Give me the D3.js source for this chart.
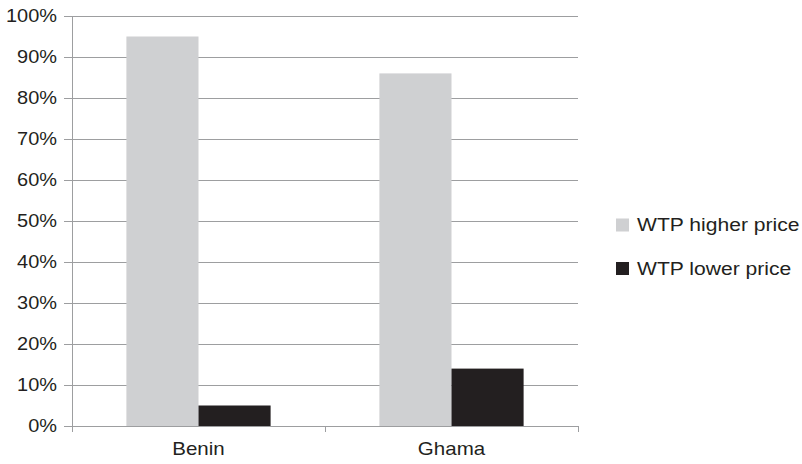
<!DOCTYPE html>
<html>
<head>
<meta charset="utf-8">
<script src="https://cdn.jsdelivr.net/npm/d3@7"></script>
<style>
    body { margin: 0; background: #fff; }
    svg text { font-family: "Liberation Sans", Arial, sans-serif; fill: #231f20; }
</style>
</head>
<body>
<div id="chart"></div>
<script>
'use strict';

// Chart data
const categories = ['Benin', 'Ghama'];
const seriesNames = ['WTP higher price', 'WTP lower price'];
const higherPrice = [0.95, 0.86];
const lowerPrice = [0.05, 0.14];
const yTicks = [0, 0.1, 0.2, 0.3, 0.4, 0.5, 0.6, 0.7, 0.8, 0.9, 1.0];

const settings = {
    width: 802,
    height: 464,
    elId: '#chart'
};

const margin = { top: 16, left: 72, right: 224, bottom: 38 };
const colors = ['#cfd0d2', '#231f20'];
const gridColor = '#9d9ea0';
// the original text is a bit wider than Liberation Sans
const stretch = 1.14;

const innerW = settings.width - margin.left - margin.right;
const innerH = settings.height - margin.top - margin.bottom;

// widen text horizontally, keeping its anchor point
function widen(sel) {
    sel.each(function () {
        const t = d3.select(this);
        const x0 = +t.attr('x') || 0;
        t.attr('x', x0 / stretch)
            .attr('transform', `scale(${stretch},1)`);
    });
}

const svg = d3.select(settings.elId)
    .append('svg')
    .attr('width', settings.width)
    .attr('height', settings.height);

const g = svg.append('g')
    .attr('transform', `translate(${margin.left},${margin.top})`);

const x = d3.scaleBand()
    .domain(categories)
    .range([0, innerW])
    .paddingInner(0)
    .paddingOuter(0);

const xSub = d3.scaleBand()
    .domain(seriesNames)
    .range([x.bandwidth() * 0.215, x.bandwidth() * 0.785]);

const y = d3.scaleLinear()
    .domain([0, 1])
    .range([innerH, 0]);

// Gridlines
g.append('g')
    .selectAll('line')
    .data(yTicks.slice(1))
    .enter()
    .append('line')
    .attr('x1', 0)
    .attr('x2', innerW)
    .attr('y1', d => Math.round(y(d)) + 0.5)
    .attr('y2', d => Math.round(y(d)) + 0.5)
    .attr('stroke', gridColor)
    .attr('stroke-width', 1);

// Bars
const rows = categories.map((c, i) => ({ cat: c, values: [higherPrice[i], lowerPrice[i]] }));

const groups = g.selectAll('.group')
    .data(rows)
    .enter()
    .append('g')
    .attr('class', 'group')
    .attr('transform', d => `translate(${x(d.cat)},0)`);

groups.selectAll('rect')
    .data(d => d.values.map((v, i) => ({ name: seriesNames[i], value: v, i })))
    .enter()
    .append('rect')
    .attr('x', d => xSub(d.name))
    .attr('width', xSub.bandwidth())
    .attr('y', d => y(d.value))
    .attr('height', d => innerH - y(d.value))
    .attr('fill', d => colors[d.i]);

// Y axis
const yAxis = d3.axisLeft(y)
    .tickValues(yTicks)
    .tickFormat(d3.format('.0%'))
    .tickSize(8)
    .tickPadding(7);

const yG = g.append('g').call(yAxis);
yG.select('.domain').attr('stroke', gridColor).attr('d', `M0.5,0V${innerH}`);
yG.selectAll('.tick line').attr('stroke', gridColor);
yG.selectAll('.tick text')
    .attr('font-size', '17.5px')
    .attr('fill', '#231f20')
    .call(widen);

// X axis
const xAxis = d3.axisBottom(x)
    .tickSize(0)
    .tickPadding(16);

const xG = g.append('g')
    .attr('transform', `translate(0,${innerH})`)
    .call(xAxis);
xG.select('.domain').attr('stroke', gridColor).attr('d', `M0,0.5H${innerW}`);
xG.selectAll('.tick text')
    .attr('font-size', '18px')
    .attr('fill', '#231f20')
    .call(widen);

// Category separator ticks
xG.append('g')
    .selectAll('line')
    .data([x.range()[0], x(categories[1]), x.range()[1]])
    .enter()
    .append('line')
    .attr('x1', d => Math.round(d) + 0.5)
    .attr('x2', d => Math.round(d) + 0.5)
    .attr('y1', 0)
    .attr('y2', 6)
    .attr('stroke', gridColor);

// Legend
const legend = svg.append('g')
    .attr('transform', 'translate(616,225)');

const items = legend.selectAll('g')
    .data(seriesNames)
    .enter()
    .append('g')
    .attr('transform', (_, i) => `translate(0,${i * 43.5})`);

items.append('rect')
    .attr('x', 0)
    .attr('y', -6.5)
    .attr('width', 13)
    .attr('height', 13)
    .attr('fill', (_, i) => colors[i]);

items.append('text')
    .attr('x', 21)
    .attr('dy', '0.35em')
    .attr('font-size', '18.5px')
    .text(d => d)
    .call(widen);
</script>
</body>
</html>
